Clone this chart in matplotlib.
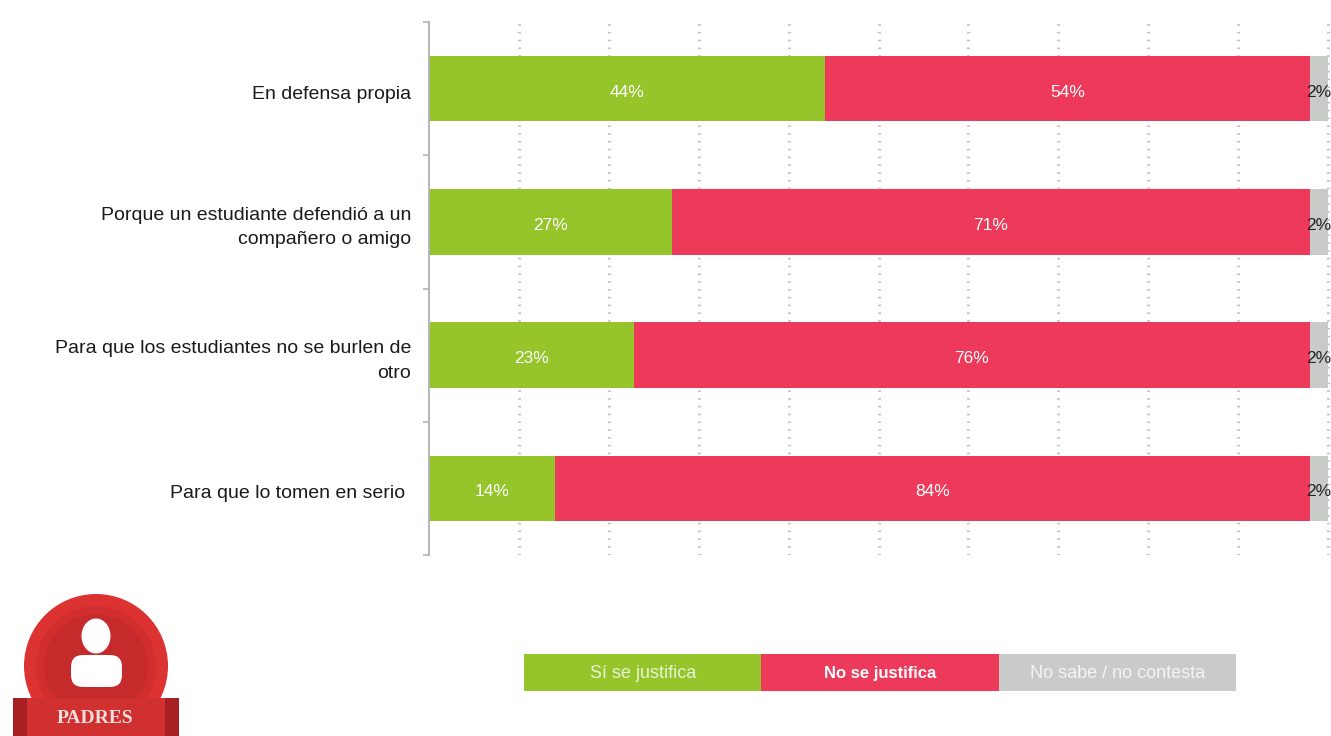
import matplotlib
matplotlib.use("Agg")
import matplotlib.pyplot as plt
from matplotlib.patches import Circle, Ellipse, FancyBboxPatch, Rectangle
from matplotlib.transforms import ScaledTranslation
import numpy as np

W, H = 1331, 736

categories = [
    "En defensa propia",
    "Porque un estudiante defendió a un\ncompañero o amigo",
    "Para que los estudiantes no se burlen de\notro",
    "Para que lo tomen en serio ",
]
si_justifica = [44, 27, 23, 14]
no_justifica = [54, 71, 76, 84]
no_sabe = [2, 2, 2, 2]
series_names = ["Sí se justifica", "No se justifica", "No sabe / no contesta"]
series_colors = ["#95C42B", "#EE3A5A", "#C8CBC8"]
label_colors = ["white", "white", "#222222"]
x_ticks = list(range(0, 101, 10))

plt.rcParams["font.family"] = ["Liberation Sans", "DejaVu Sans"]
fig = plt.figure(figsize=(W / 100, H / 100), dpi=100, facecolor="white")


def px_axes(left, top, right, bottom):
    return fig.add_axes([left / W, 1 - bottom / H, (right - left) / W, (bottom - top) / H])


# Percent-stacked bars: each row is normalised to its own total
ax = px_axes(429, 22, 1331, 555)
ax.set_xlim(0, 100 * 902 / 899)
ax.set_ylim(len(categories) - 0.5, -0.5)
raw = np.array([si_justifica, no_justifica, no_sabe], dtype=float)
shares = raw / raw.sum(axis=0) * 100
lefts = np.zeros(len(categories))
y = np.arange(len(categories))
for i, name in enumerate(series_names):
    ax.barh(y, shares[i], left=lefts, height=0.49, color=series_colors[i], zorder=2, label=name)
    for j in y:
        ax.annotate(f"{int(raw[i][j])}%", (lefts[j] + shares[i][j] / 2, j),
                    xytext=(0, -2.5), textcoords="offset points",
                    ha="center", va="center", color=label_colors[i], fontsize=12.5,
                    zorder=3, annotation_clip=False)
    lefts += shares[i]

ax.set_xticks(x_ticks[1:])
ax.tick_params(axis="x", length=0, labelbottom=False)
ax.grid(axis="x", color="#c2c2c2", linestyle=(0, (0.5, 2.05)), linewidth=2.2, zorder=0)
ax.set_yticks(y, categories, fontsize=14, color="#1a1a1a", linespacing=1.57)
ax.set_yticks(np.arange(len(categories) + 1) - 0.5, minor=True)
ax.tick_params(axis="y", which="major", length=0, pad=13)
ax.tick_params(axis="y", which="minor", length=4, width=1.2, color="#b5b5bb")

# Single-line category labels sit slightly below the row centre
nudge = ScaledTranslation(0, -2.5 / 72, fig.dpi_scale_trans)
for tick_label, text in zip(ax.get_yticklabels(), categories):
    if "\n" not in text:
        tick_label.set_transform(tick_label.get_transform() + nudge)

for side in ("top", "right", "bottom"):
    ax.spines[side].set_visible(False)
ax.spines["left"].set_color("#b5b5bb")
ax.spines["left"].set_linewidth(1.4)

# Key strip below the chart
leg = px_axes(524, 654, 1236, 691)
leg.set_xlim(0, len(series_names))
leg.set_ylim(0, 1)
leg.axis("off")
for i, name in enumerate(series_names):
    leg.add_patch(Rectangle((i, 0), 1, 1, color=series_colors[i], lw=0))
    leg.text(i + 0.5, 0.47, name, ha="center", va="center", color="white",
             fontsize=12 if i == 1 else 13,
             fontweight="bold" if i == 1 else "normal", alpha=1 if i == 1 else 0.8)

# Badge at the lower-left corner
badge = px_axes(0, 580, 200, 736)
badge.set_xlim(0, 200)
badge.set_ylim(156, 0)
badge.axis("off")
badge.add_patch(Circle((96, 86), 72, color="#DC3232", lw=0))
badge.add_patch(Circle((96, 86), 60, color="#D22E2E", lw=0))
badge.add_patch(Circle((96, 86), 52, color="#C62B2B", lw=0))
badge.add_patch(Ellipse((96, 56), 29, 35, color="white", lw=0))
badge.add_patch(FancyBboxPatch((71, 75), 51, 32, boxstyle="round,pad=0,rounding_size=12",
                               color="white", lw=0))
badge.add_patch(Rectangle((13, 118), 166, 38, color="#A81F22", lw=0))
badge.add_patch(Rectangle((27, 118), 138, 38, color="#D03030", lw=0))
badge.text(95, 138.5, "PADRES", ha="center", va="center", color="#F6DEDC",
           fontsize=14, family="Liberation Serif", fontweight="bold")

fig.savefig("out.png", dpi=100, facecolor="white")
